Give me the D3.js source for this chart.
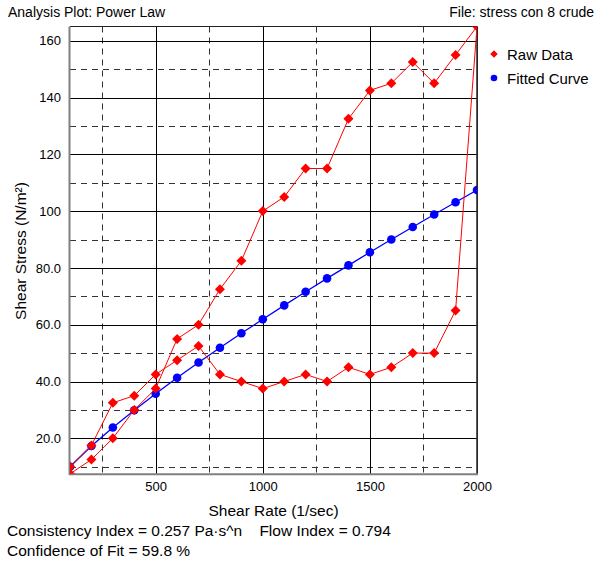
<!DOCTYPE html>
<html>
<head>
<meta charset="utf-8">
<script src="https://cdn.jsdelivr.net/npm/d3@7"></script>
<style>
  html, body { margin: 0; padding: 0; background: #fff; }
  svg { display: block; font-family: "Liberation Sans", Arial, sans-serif; }
</style>
</head>
<body>
<svg id="chart" width="602" height="562"></svg>
<script>
// ---- data ----
const rawRate = [100,200,300,400,500,600,700,800,900,1000,1100,1200,1300,1400,1500,1600,1700,1800,1900,2000,
                 1900,1800,1700,1600,1500,1400,1300,1200,1100,1000,900,800,700,600,500,400,300,200,100];
const rawStress = [7.5,12.5,20,30,37.5,55,60,72.5,82.5,100,105,115,115,132.5,142.5,145,152.5,145,155,165,
                   65,50,50,45,42.5,45,40,42.5,40,37.5,40,42.5,52.5,47.5,42.5,35,32.5,17.5,10];
const fitRate = [100,200,300,400,500,600,700,800,900,1000,1100,1200,1300,1400,1500,1600,1700,1800,1900,2000];
const fitStress = [10.0,17.3,23.8,29.9,35.7,41.3,46.7,51.9,57.0,61.9,66.8,71.6,76.3,80.9,85.5,90.0,94.4,98.8,103.1,107.4];
const xMajorTicks = [500,1000,1500,2000];
const xMinorTicks = [250,750,1250,1750];
const yMajorTicks = [20,40,60,80,100,120,140,160];
const yMinorTicks = [10,30,50,70,90,110,130,150];
const yTickLabels = ["20.0","40.0","60.0","80.0","100","120","140","160"];
const legendLabels = ["Raw Data","Fitted Curve"];
const titleText = "Analysis Plot: Power Law";
const fileText = "File: stress con 8 crude";
const xTitle = "Shear Rate (1/sec)";
const yTitle = "Shear Stress (N/m\u00B2)";
const footer1 = "Consistency Index = 0.257 Pa\u00B7s^n\u00A0\u00A0\u00A0\u00A0Flow Index = 0.794";
const footer2 = "Confidence of Fit = 59.8 %";

// ---- layout ----
const svg = d3.select("#chart");
const L = 70, R = 477, T = 26.5, B = 473.8;

const x = d3.scaleLinear().domain(d3.extent(rawRate)).range([L, R]);
const y = d3.scaleLinear().domain(d3.extent(rawStress)).range([B, T]);

svg.append("defs").append("clipPath").attr("id", "plotclip")
  .append("rect").attr("x", L).attr("y", T).attr("width", R - L).attr("height", B - T);

// grid
const grid = svg.append("g");
grid.selectAll("line.ymin").data(yMinorTicks).join("line")
  .attr("x1", L).attr("x2", R).attr("y1", d => Math.round(y(d)) + 0.5).attr("y2", d => Math.round(y(d)) + 0.5)
  .attr("stroke", "#333").attr("stroke-dasharray", "6,5");
grid.selectAll("line.xmin").data(xMinorTicks).join("line")
  .attr("y1", T).attr("y2", B).attr("x1", d => Math.round(x(d)) + 0.5).attr("x2", d => Math.round(x(d)) + 0.5)
  .attr("stroke", "#333").attr("stroke-dasharray", "6,5");
grid.selectAll("line.ymaj").data(yMajorTicks).join("line")
  .attr("x1", L).attr("x2", R).attr("y1", d => Math.round(y(d)) + 0.5).attr("y2", d => Math.round(y(d)) + 0.5)
  .attr("stroke", "#000");
grid.selectAll("line.xmaj").data(xMajorTicks).join("line")
  .attr("y1", T).attr("y2", B).attr("x1", d => Math.round(x(d)) + 0.5).attr("x2", d => Math.round(x(d)) + 0.5)
  .attr("stroke", "#000");

// frame
svg.append("line").attr("x1", L).attr("x2", R).attr("y1", T).attr("y2", T).attr("stroke", "#222").attr("stroke-width", 1.2);
svg.append("line").attr("x1", R).attr("x2", R).attr("y1", T).attr("y2", B).attr("stroke", "#333").attr("stroke-width", 1.6);
svg.append("line").attr("x1", L - 0.5).attr("x2", L - 0.5).attr("y1", T).attr("y2", B + 1).attr("stroke", "#808080").attr("stroke-width", 2);
svg.append("line").attr("x1", L - 1).attr("x2", R + 1).attr("y1", B + 0.5).attr("y2", B + 0.5).attr("stroke", "#808080").attr("stroke-width", 2);

// axes labels via d3 axis (no lines)
const yAxis = d3.axisLeft(y).tickValues(yMajorTicks).tickSize(0).tickPadding(0)
  .tickFormat((d, i) => yTickLabels[i]);
const gy = svg.append("g").attr("transform", `translate(${L - 9},0)`).call(yAxis);
gy.select(".domain").remove();
gy.selectAll("text").attr("font-size", 13).attr("fill", "#000").attr("font-family", "Liberation Sans, Arial, sans-serif");

const xAxis = d3.axisBottom(x).tickValues(xMajorTicks).tickSize(0).tickPadding(0).tickFormat(d3.format("d"));
const gx = svg.append("g").attr("transform", `translate(0,${B + 8})`).call(xAxis);
gx.select(".domain").remove();
gx.selectAll("text").attr("font-size", 13).attr("fill", "#000").attr("font-family", "Liberation Sans, Arial, sans-serif");

// data
const plot = svg.append("g").attr("clip-path", "url(#plotclip)");
const fitPts = fitRate.map((r, i) => [r, fitStress[i]]);
const rawPts = rawRate.map((r, i) => [r, rawStress[i]]);
const line = d3.line().x(d => x(d[0])).y(d => y(d[1]));

plot.append("path").attr("d", line(fitPts)).attr("fill", "none").attr("stroke", "#0000ff").attr("stroke-width", 1.3);
plot.selectAll("circle.fit").data(fitPts).join("circle")
  .attr("cx", d => x(d[0])).attr("cy", d => y(d[1])).attr("r", 4.3).attr("fill", "#0000ff");

plot.append("path").attr("d", line(rawPts)).attr("fill", "none").attr("stroke", "#ff0000").attr("stroke-width", 1);
const diamond = d3.symbol().type(d3.symbolDiamond2).size(64);
plot.selectAll("path.raw").data(rawPts).join("path")
  .attr("transform", d => `translate(${x(d[0])},${y(d[1])})`)
  .attr("d", diamond()).attr("fill", "#ff0000");

// legend
const lg = svg.append("g");
lg.append("path").attr("transform", "translate(494,54)").attr("d", d3.symbol().type(d3.symbolDiamond2).size(36)()).attr("fill", "#ff0000");
lg.append("circle").attr("cx", 494).attr("cy", 78).attr("r", 3.3).attr("fill", "#0000ff");
lg.selectAll("text").data(legendLabels).join("text")
  .attr("x", 507).attr("y", (d, i) => 59.5 + i * 24).attr("font-size", 15).attr("fill", "#000").text(d => d);

// titles
svg.append("text").attr("x", 8).attr("y", 17).attr("font-size", 14).text(titleText);
svg.append("text").attr("x", 594).attr("y", 17).attr("font-size", 14).attr("text-anchor", "end").text(fileText);
svg.append("text").attr("x", (L + R) / 2).attr("y", 516).attr("font-size", 15.5).attr("text-anchor", "middle").text(xTitle);
svg.append("text").attr("transform", "translate(26,251) rotate(-90)").attr("font-size", 15.5).attr("text-anchor", "middle").text(yTitle);
svg.append("text").attr("x", 7).attr("y", 536).attr("font-size", 15.5).text(footer1);
svg.append("text").attr("x", 7).attr("y", 556).attr("font-size", 15.5).text(footer2);
</script>
</body>
</html>
